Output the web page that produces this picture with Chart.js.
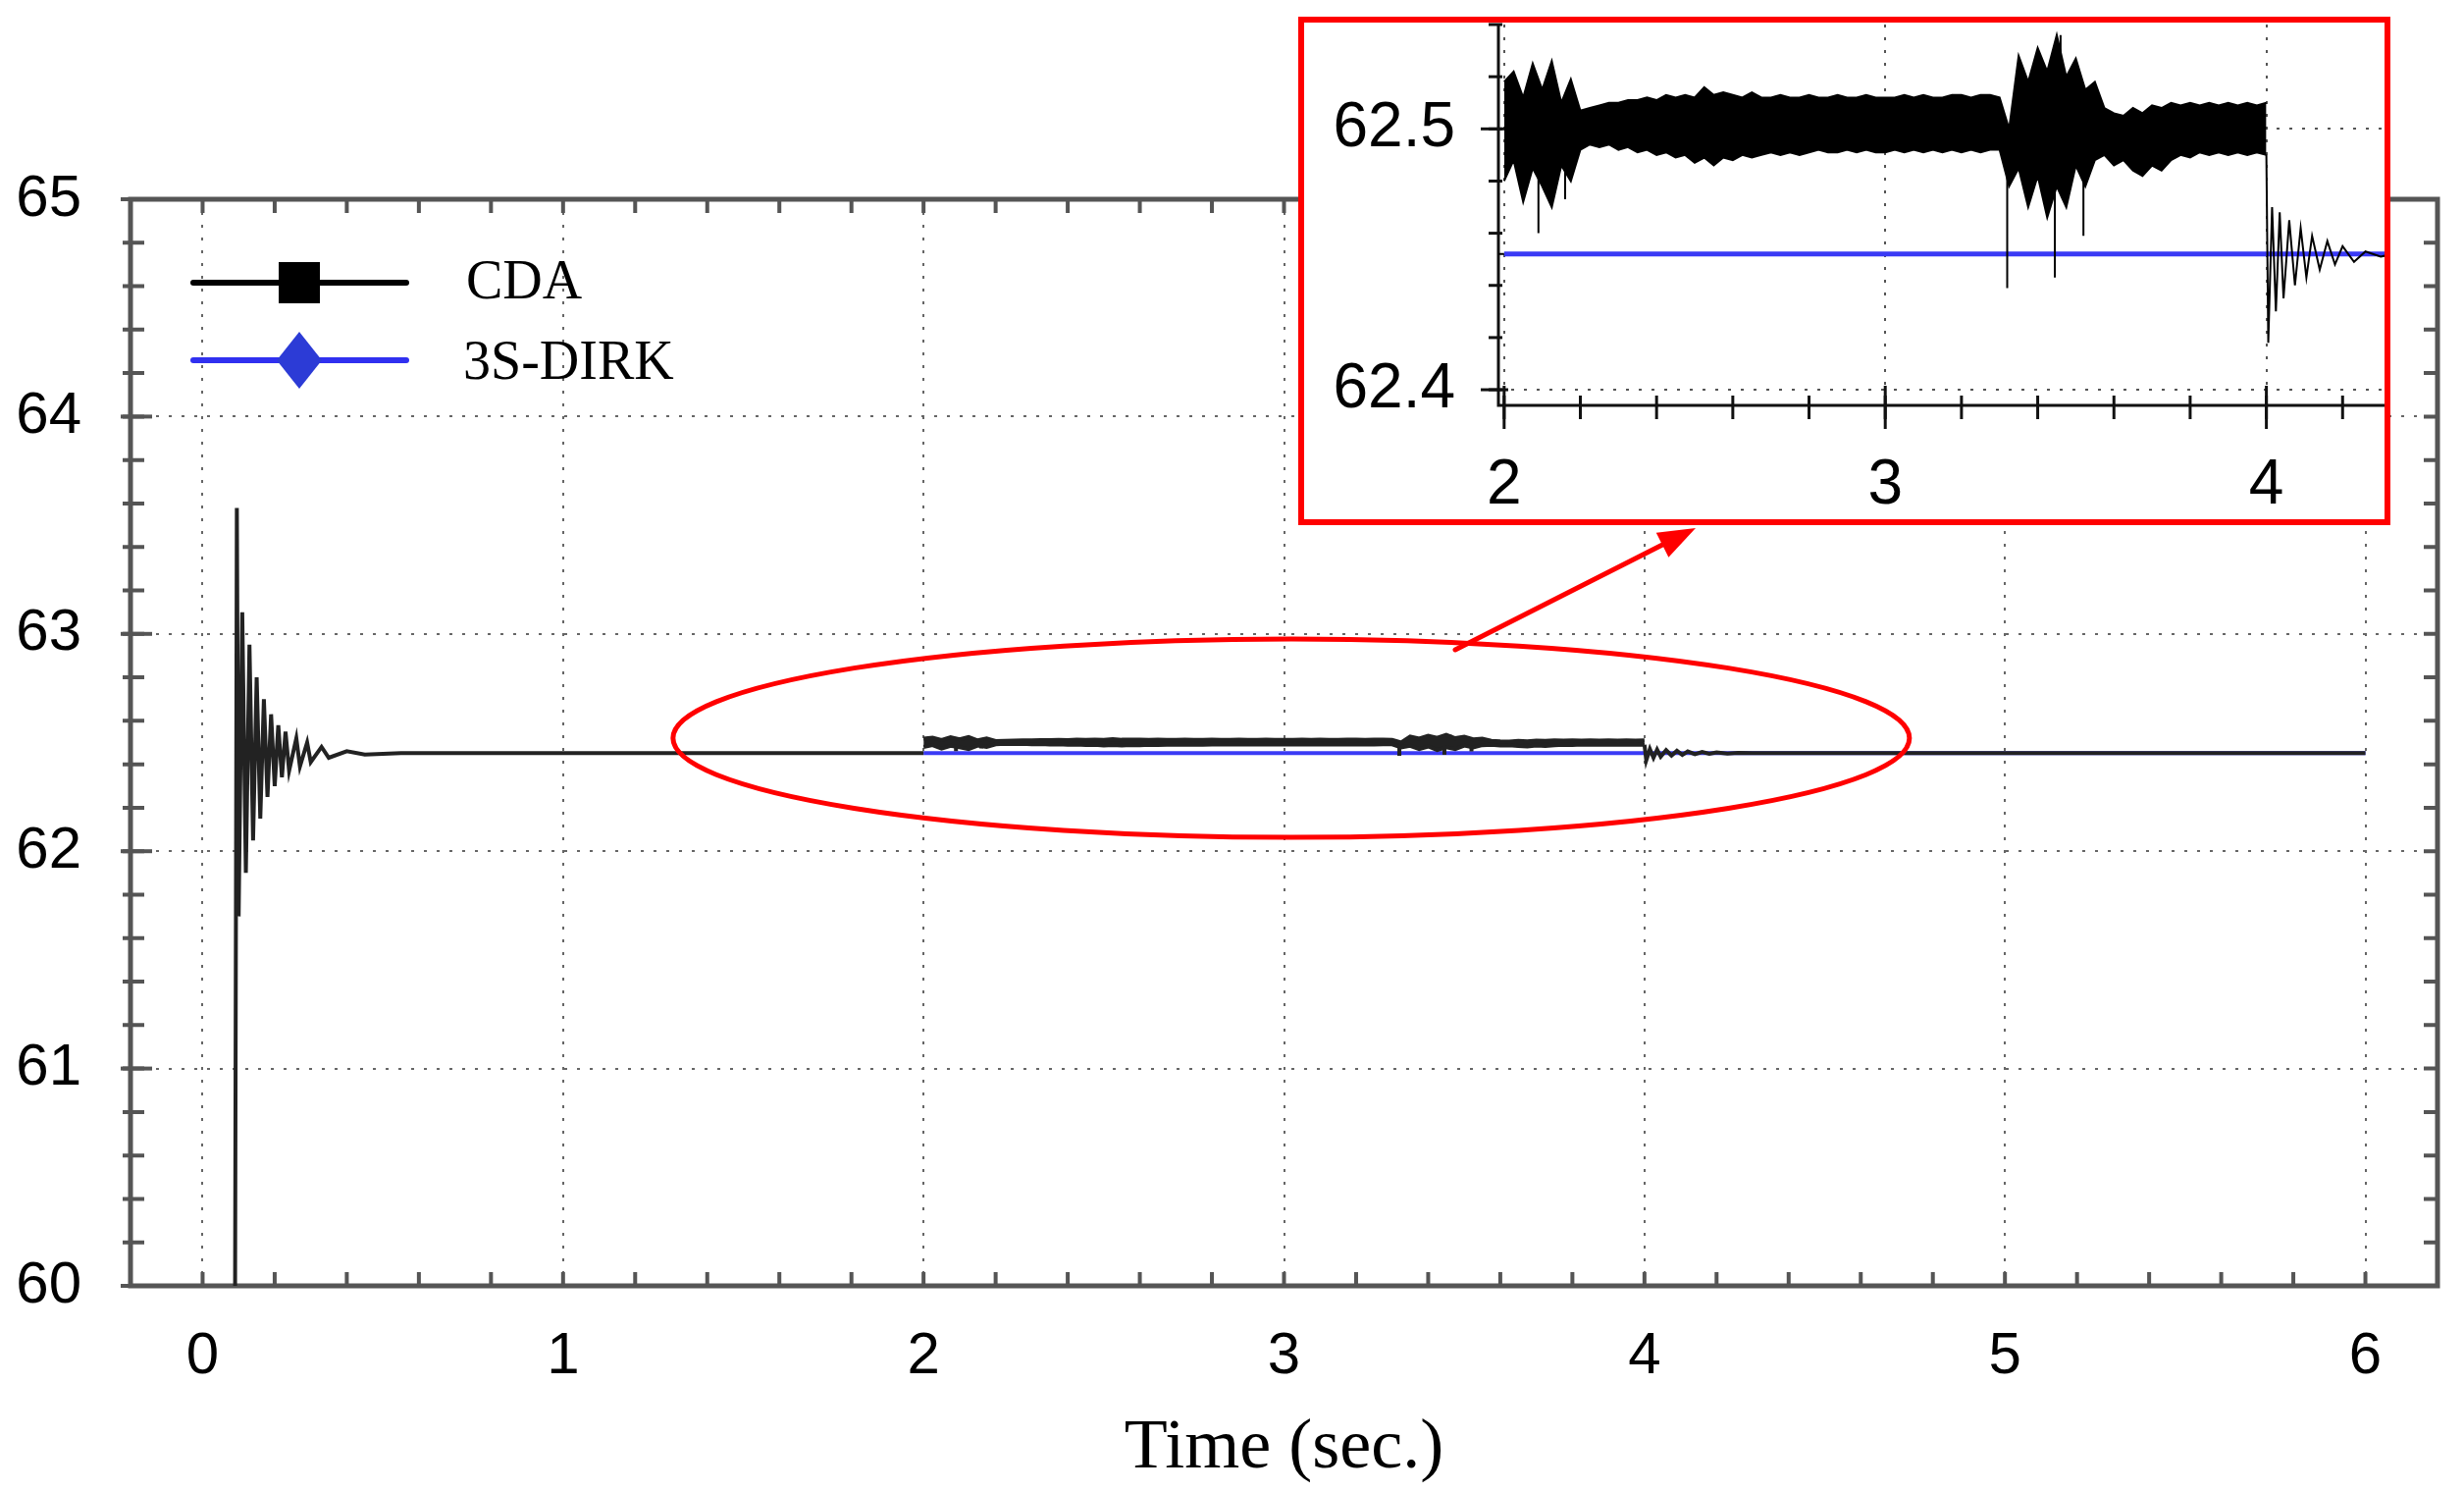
<!DOCTYPE html>
<html><head><meta charset="utf-8">
<script src="https://cdn.jsdelivr.net/npm/chart.js@4.4.1/dist/chart.umd.min.js"></script>
<style>
html,body{margin:0;padding:0;background:#fff;width:2511px;height:1519px;overflow:hidden}
#main{position:absolute;left:0;top:0;width:2511px;height:1519px}
#box{position:absolute;left:1323px;top:17px;width:1101px;height:506px;border:6px solid #f00;background:#fff}
#inset{position:absolute;left:0;top:0;width:1101px;height:506px}
</style></head><body>
<canvas id="main" width="2511" height="1519"></canvas>
<div id="box"><canvas id="inset" width="1101" height="506"></canvas></div>
<script>
// CDA transient and tail
const cdaT = [0.09,0.095,0.10,0.11,0.12,0.13,0.14,0.15,0.16,0.17,0.18,0.19,0.20,0.21,0.22,0.23,0.24,0.26,0.27,0.29,0.30,0.33,0.35,0.40,0.45,0.55,2.00];
const cdaV = [59.9,63.58,61.7,63.1,61.9,62.95,62.05,62.8,62.15,62.7,62.25,62.63,62.3,62.58,62.34,62.55,62.37,62.52,62.39,62.5,62.41,62.48,62.43,62.46,62.445,62.452,62.452];
const tailT = [4.000,4.005,4.015,4.025,4.035,4.045,4.06,4.075,4.09,4.105,4.12,4.14,4.16,4.18,4.20,4.23,4.26,4.30,4.33,6.00];
const tailV = [62.49,62.418,62.47,62.43,62.468,62.435,62.465,62.44,62.462,62.443,62.459,62.446,62.457,62.448,62.455,62.449,62.453,62.451,62.452,62.452];
// CDA noise band between 2 s and 4 s (envelope)
const envT = [2.000,2.025,2.050,2.075,2.100,2.125,2.150,2.175,2.200,2.225,2.250,2.275,2.300,2.325,2.350,2.375,2.400,2.425,2.450,2.475,2.500,2.525,2.550,2.575,2.600,2.625,2.650,2.675,2.700,2.725,2.750,2.775,2.800,2.825,2.850,2.875,2.900,2.925,2.950,2.975,3.000,3.025,3.050,3.075,3.100,3.125,3.150,3.175,3.200,3.225,3.250,3.275,3.300,3.325,3.350,3.375,3.400,3.425,3.450,3.475,3.500,3.525,3.550,3.575,3.600,3.625,3.650,3.675,3.700,3.725,3.750,3.775,3.800,3.825,3.850,3.875,3.900,3.925,3.950,3.975,4.000];
const envUpper = [62.518,62.522,62.512,62.525,62.515,62.526,62.510,62.519,62.507,62.508,62.509,62.510,62.510,62.511,62.511,62.512,62.511,62.513,62.512,62.513,62.512,62.516,62.513,62.514,62.513,62.512,62.514,62.512,62.512,62.513,62.512,62.512,62.513,62.512,62.512,62.513,62.512,62.512,62.513,62.512,62.512,62.512,62.513,62.512,62.513,62.512,62.512,62.513,62.513,62.512,62.513,62.513,62.512,62.500,62.528,62.518,62.531,62.522,62.536,62.520,62.527,62.515,62.518,62.508,62.506,62.505,62.508,62.506,62.509,62.508,62.510,62.509,62.510,62.509,62.510,62.509,62.510,62.509,62.510,62.509,62.510];
const envLower = [62.480,62.488,62.472,62.485,62.478,62.470,62.486,62.480,62.492,62.494,62.493,62.494,62.492,62.493,62.491,62.492,62.490,62.491,62.489,62.490,62.487,62.489,62.486,62.489,62.488,62.490,62.489,62.490,62.491,62.490,62.491,62.490,62.491,62.492,62.491,62.491,62.492,62.491,62.492,62.491,62.491,62.492,62.491,62.492,62.491,62.492,62.491,62.492,62.491,62.492,62.491,62.492,62.492,62.478,62.485,62.470,62.482,62.466,62.478,62.470,62.486,62.478,62.488,62.490,62.486,62.488,62.484,62.482,62.486,62.484,62.488,62.490,62.489,62.491,62.490,62.491,62.490,62.491,62.490,62.491,62.490];
// isolated spikes (pairs)
const spikeT = [2.09,2.09,2.16,2.16,3.32,3.32,3.445,3.445,3.46,3.46,3.52,3.52];
const spikeV = [62.49,62.46,62.49,62.473,62.49,62.439,62.49,62.443,62.51,62.536,62.49,62.459];
// 3S-DIRK
const dirkT = [2.00,6.00];
const dirkV = [62.452,62.452];
// ticks
const mainXTicks = [0,1,2,3,4,5,6];
const mainYTicks = [60,61,62,63,64,65];
const insetXTicks = [2,3,4];
const insetYTicks = [62.4,62.5];

const zip=(t,v)=>t.map((x,i)=>({x:x,y:v[i]}));
function spikes(){const out=[];for(let i=0;i<spikeT.length;i+=2){out.push({x:spikeT[i],y:spikeV[i]},{x:spikeT[i+1],y:spikeV[i+1]},{x:spikeT[i+1],y:null});}return out;}
function datasets(blk,w,bw){
  return [
    {data:zip(dirkT,dirkV),borderColor:'#3a3af5',borderWidth:bw,pointRadius:0,order:5},
    {data:zip(cdaT,cdaV),borderColor:blk,borderWidth:w,pointRadius:0,order:1},
    {data:zip(tailT,tailV),borderColor:blk,borderWidth:w,pointRadius:0,order:1},
    {data:zip(envT,envUpper),borderColor:blk,borderWidth:w,pointRadius:0,order:1,fill:false},
    {data:zip(envT,envLower),borderColor:blk,borderWidth:w,pointRadius:0,order:1,fill:'-1',backgroundColor:blk},
    {data:spikes(),borderColor:blk,borderWidth:w,pointRadius:0,order:1,spanGaps:false}
  ];
}
function fixTicks(arr){return s=>{s.ticks=arr.map(v=>({value:v}));};}
function zeroPad(s){s.paddingTop=0;s.paddingBottom=0;s.paddingLeft=0;s.paddingRight=0;}
function minor(ctx,scale,from,to,step,fn){for(let v=from;v<=to+1e-9;v+=step){fn(scale.getPixelForValue(v));}}

const mainPlugin={id:'mainDeco',
  beforeDatasetsDraw(c){const a=c.chartArea,ctx=c.ctx,x=c.scales.x,y=c.scales.y;ctx.save();ctx.strokeStyle='#555';ctx.lineWidth=4;
    minor(ctx,x,-0.2,6.2,0.2,p=>{ctx.beginPath();ctx.moveTo(p,a.top);ctx.lineTo(p,a.top+14);ctx.moveTo(p,a.bottom);ctx.lineTo(p,a.bottom-14);ctx.stroke();});
    minor(ctx,y,60,65,0.2,p=>{ctx.beginPath();ctx.moveTo(a.left-8,p);ctx.lineTo(a.left+14,p);ctx.moveTo(a.right,p);ctx.lineTo(a.right-14,p);ctx.stroke();});
    mainYTicks.forEach(v=>{const p=y.getPixelForValue(v);ctx.beginPath();ctx.moveTo(a.left-10,p);ctx.lineTo(a.left+22,p);ctx.stroke();});
    ctx.lineWidth=5;ctx.strokeRect(a.left,a.top,a.right-a.left,a.bottom-a.top);ctx.restore();},
  afterDraw(c){const ctx=c.ctx,x=c.scales.x,y=c.scales.y;ctx.save();
    ctx.lineCap='round';ctx.lineWidth=6;ctx.strokeStyle='#000';ctx.beginPath();ctx.moveTo(197,288);ctx.lineTo(414,288);ctx.stroke();
    ctx.fillStyle='#000';ctx.fillRect(284,267,42,42);
    ctx.strokeStyle='#3030f0';ctx.beginPath();ctx.moveTo(197,367);ctx.lineTo(414,367);ctx.stroke();
    ctx.fillStyle='#2c3bd6';ctx.beginPath();ctx.moveTo(305,338);ctx.lineTo(328,367);ctx.lineTo(305,396);ctx.lineTo(282,367);ctx.closePath();ctx.fill();
    ctx.fillStyle='#000';ctx.font='56px "Liberation Serif"';ctx.textBaseline='alphabetic';
    ctx.fillText('CDA',475,304);ctx.fillText('3S-DIRK',472,386);
    const cx=x.getPixelForValue(3.02),cy=y.getPixelForValue(62.52);
    ctx.strokeStyle='#f00';ctx.lineWidth=5;ctx.beginPath();ctx.ellipse(cx,cy,630,101,0,0,Math.PI*2);ctx.stroke();
    const x1=1483,y1=662,x2=1728,y2=538;ctx.beginPath();ctx.moveTo(x1,y1);ctx.lineTo(x2-20,y2+10);ctx.stroke();
    const ang=Math.atan2(y2-y1,x2-x1);ctx.fillStyle='#f00';ctx.beginPath();ctx.moveTo(x2,y2);
    ctx.lineTo(x2-38*Math.cos(ang)+14*Math.sin(ang),y2-38*Math.sin(ang)-14*Math.cos(ang));
    ctx.lineTo(x2-38*Math.cos(ang)-14*Math.sin(ang),y2-38*Math.sin(ang)+14*Math.cos(ang));ctx.closePath();ctx.fill();
    ctx.restore();}};

new Chart(document.getElementById('main'),{type:'line',data:{datasets:datasets('#222',4,4)},
  options:{responsive:false,animation:false,layout:{padding:{top:203,right:27,left:0,bottom:0}},
    plugins:{legend:{display:false},tooltip:{enabled:false}},
    scales:{
      x:{type:'linear',min:-0.2,max:6.2,afterBuildTicks:fixTicks(mainXTicks),afterFit:s=>{s.height=209;zeroPad(s);},
        border:{display:false,dash:[3,10]},grid:{color:'#666',lineWidth:2,drawTicks:false},
        ticks:{padding:36,color:'#000',font:{family:'Liberation Sans',size:60}},
        title:{display:true,text:'Time (sec.)',color:'#000',font:{family:'Liberation Serif',size:72},padding:{top:6,bottom:0}}},
      y:{type:'linear',min:60,max:65,afterBuildTicks:fixTicks(mainYTicks),afterFit:s=>{s.width=133;zeroPad(s);},
        border:{display:false,dash:[3,10]},grid:{color:'#666',lineWidth:2,drawTicks:false},
        ticks:{padding:50,color:'#000',font:{family:'Liberation Sans',size:60}}}
    }},plugins:[mainPlugin]});

const insetPlugin={id:'insetDeco',
  beforeDatasetsDraw(c){const a=c.chartArea,ctx=c.ctx,x=c.scales.x,y=c.scales.y;ctx.save();ctx.strokeStyle='#111';ctx.lineWidth=3;
    ctx.beginPath();ctx.moveTo(a.left,a.top);ctx.lineTo(a.left,a.bottom);ctx.lineTo(a.right,a.bottom);ctx.stroke();
    minor(ctx,x,2,4.3,0.2,p=>{ctx.beginPath();ctx.moveTo(p,a.bottom-10);ctx.lineTo(p,a.bottom+14);ctx.stroke();});
    insetXTicks.forEach(v=>{const p=x.getPixelForValue(v);ctx.beginPath();ctx.moveTo(p,a.bottom-20);ctx.lineTo(p,a.bottom+24);ctx.stroke();});
    minor(ctx,y,62.4,62.54,0.02,p=>{ctx.beginPath();ctx.moveTo(a.left-10,p);ctx.lineTo(a.left+4,p);ctx.stroke();});
    insetYTicks.forEach(v=>{const p=y.getPixelForValue(v);ctx.beginPath();ctx.moveTo(a.left-18,p);ctx.lineTo(a.left+10,p);ctx.stroke();});
    ctx.restore();}};

new Chart(document.getElementById('inset'),{type:'line',data:{datasets:datasets('#000',2,5)},
  options:{responsive:false,animation:false,layout:{padding:{top:2,right:0,left:0,bottom:0}},
    plugins:{legend:{display:false},tooltip:{enabled:false}},
    scales:{
      x:{type:'linear',min:1.985,max:4.31,afterBuildTicks:fixTicks(insetXTicks),afterFit:s=>{s.height=116;zeroPad(s);},
        border:{display:false,dash:[3,10]},grid:{color:'#555',lineWidth:2,drawTicks:false},
        ticks:{padding:44,color:'#000',font:{family:'Liberation Sans',size:64}}},
      y:{type:'linear',min:62.394,max:62.54,afterBuildTicks:fixTicks(insetYTicks),afterFit:s=>{s.width=198;zeroPad(s);},
        border:{display:false,dash:[3,10]},grid:{color:'#555',lineWidth:2,drawTicks:false},
        ticks:{padding:44,color:'#000',font:{family:'Liberation Sans',size:64}}}
    }},plugins:[insetPlugin]});
</script></body></html>
